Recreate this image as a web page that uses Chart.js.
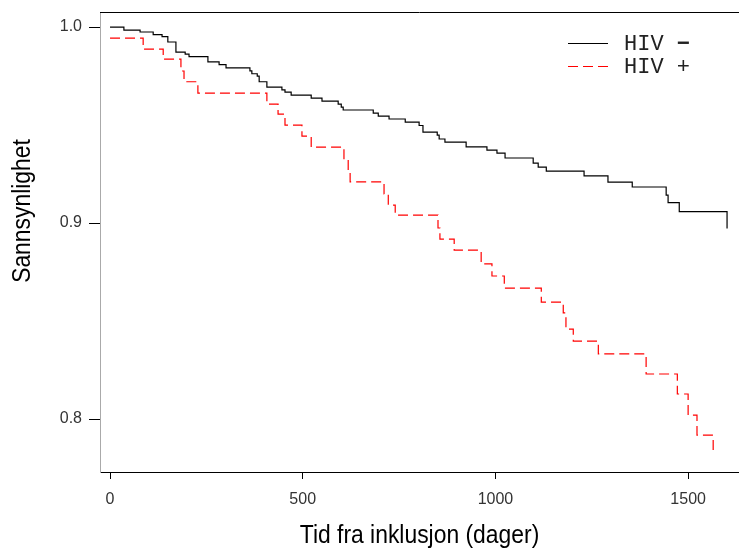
<!DOCTYPE html>
<html>
<head>
<meta charset="utf-8">
<script src="https://cdn.jsdelivr.net/npm/chart.js@4.4.1/dist/chart.umd.min.js"></script>
<style>
html, body { margin: 0; padding: 0; background: #fff; }
#wrap { width: 739px; height: 549px; }
</style>
</head>
<body>
<div id="wrap"><canvas id="kmChart" width="739" height="549"></canvas></div>
<script>
// Kaplan-Meier steps (day of event, survival after it)
const hivNegDays = [0, 36, 78, 112, 135, 150, 171, 195, 205, 254, 283, 301, 363, 368, 382, 387, 407, 446, 454, 470,
  522, 550, 592, 600, 605, 683, 696, 724, 766, 802, 812, 849, 854, 869, 924, 978, 1004, 1025, 1098, 1111, 1132,
  1230, 1292, 1355, 1443, 1448, 1477, 1601];
const hivNegSurv = [1.000, 0.9985, 0.9975, 0.9962, 0.9951, 0.9924, 0.9872, 0.9862, 0.9849, 0.9823, 0.9808, 0.9792,
  0.9777, 0.9762, 0.9750, 0.9721, 0.9694, 0.9680, 0.9668, 0.9653, 0.9638, 0.9622, 0.9607, 0.9592, 0.9577, 0.9561,
  0.9546, 0.9531, 0.9515, 0.9498, 0.9464, 0.9449, 0.9429, 0.9413, 0.9389, 0.9372, 0.9357, 0.9332, 0.9306, 0.9286,
  0.9265, 0.9241, 0.9209, 0.9184, 0.9143, 0.9104, 0.9058, 0.8972];

const hivPosDays = [0, 86, 138, 184, 192, 228, 407, 436, 454, 498, 522, 607, 618, 623, 711, 722, 740, 851, 856, 893,
  963, 991, 1023, 1119, 1176, 1183, 1202, 1267, 1391, 1472, 1500, 1523, 1565];
const hivPosSurv = [0.9944, 0.9888, 0.9837, 0.9776, 0.9721, 0.9663, 0.9607, 0.9556, 0.9500, 0.9444, 0.9388, 0.9326,
  0.9270, 0.9210, 0.9149, 0.9092, 0.9041, 0.8975, 0.8918, 0.8862, 0.8792, 0.8730, 0.8668, 0.8597, 0.8542, 0.8459,
  0.8398, 0.8333, 0.8230, 0.8128, 0.8020, 0.7918, 0.7830];

const xTicks = [0, 500, 1000, 1500];
const yTicks = [0.8, 0.9, 1.0];
const seriesNames = ["HIV", "HIV"];
const seriesSigns = ["\u2212", "+"];
const seriesColors = ["#000000", "#ff0000"];
const xTitle = "Tid fra inklusjon (dager)";
const yTitle = "Sannsynlighet";

const toPoints = (days, surv) => days.map((d, i) => ({ x: d, y: surv[i] }));

// narrow-looking axis title (the original font is a condensed helvetica)
function drawTitle(ctx, text, x, y, rot) {
  ctx.save();
  ctx.translate(x, y);
  ctx.rotate(rot);
  ctx.scale(0.88, 1);
  ctx.fillStyle = "#000";
  ctx.font = "26px 'Liberation Sans', Arial, sans-serif";
  ctx.textAlign = "center";
  ctx.textBaseline = "middle";
  ctx.fillText(text, 0, 0);
  ctx.restore();
}

// top frame line, axis titles and the in-plot legend
const framePlugin = {
  id: "frame",
  afterDraw(chart) {
    const { ctx, chartArea: a } = chart;
    ctx.save();
    ctx.strokeStyle = "#000";
    ctx.lineWidth = 1;
    ctx.beginPath();
    ctx.moveTo(a.left, a.top + 0.5);
    ctx.lineTo(a.right, a.top + 0.5);
    ctx.stroke();

    drawTitle(ctx, xTitle, (a.left + a.right) / 2, 536, 0);
    drawTitle(ctx, yTitle, 23, 211, -Math.PI / 2);

    const lx = a.right - 171, ly = a.top + 31;
    ctx.textBaseline = "middle";
    ctx.textAlign = "left";
    seriesNames.forEach((name, i) => {
      const y = ly + i * 23 + 0.5;
      ctx.strokeStyle = seriesColors[i];
      ctx.setLineDash(i === 0 ? [] : [10, 5]);
      ctx.beginPath();
      ctx.moveTo(lx, y);
      ctx.lineTo(lx + 40, y);
      ctx.stroke();
      ctx.fillStyle = "#222";
      ctx.font = "22px 'Liberation Mono', monospace";
      ctx.fillText(name + " ", lx + 56, y + 1);
      const w = ctx.measureText(name + " ").width;
      ctx.font = (i === 0 ? "bold " : "") + "22px 'Liberation Mono', monospace";
      ctx.fillText(seriesSigns[i], lx + 56 + w, y + 1);
    });
    ctx.restore();
  }
};

new Chart(document.getElementById("kmChart"), {
  type: "line",
  data: {
    datasets: [
      { label: seriesNames[0] + " " + seriesSigns[0], data: toPoints(hivNegDays, hivNegSurv), borderColor: seriesColors[0],
        borderWidth: 1.2, stepped: "before", pointRadius: 0, fill: false },
      { label: seriesNames[1] + " " + seriesSigns[1], data: toPoints(hivPosDays, hivPosSurv), borderColor: seriesColors[1],
        borderWidth: 1.2, borderDash: [10, 5], stepped: "before", pointRadius: 0, fill: false }
    ]
  },
  options: {
    responsive: false,
    devicePixelRatio: 1,
    animation: false,
    layout: { padding: { top: 12, right: 0, left: 0, bottom: 0 } },
    plugins: { legend: { display: false }, tooltip: { enabled: false } },
    scales: {
      x: {
        type: "linear", min: -26, max: 1632,
        afterBuildTicks: s => { s.ticks = xTicks.map(v => ({ value: v })); },
        afterFit: s => { s.height = 77; s.paddingLeft = 0; s.paddingRight = 0; },
        grid: { drawOnChartArea: false, color: "#000", tickLength: 7 },
        border: { color: "#000", width: 1 },
        ticks: { padding: 11, color: "#333", maxRotation: 0, font: { family: "'Liberation Sans', sans-serif", size: 16 },
          callback: v => String(v) }
      },
      y: {
        type: "linear", min: 0.773, max: 1.0077,
        afterBuildTicks: s => { s.ticks = yTicks.map(v => ({ value: v })); },
        afterFit: s => { s.width = 100; s.paddingTop = 0; s.paddingBottom = 0; },
        grid: { drawOnChartArea: false, color: "#000", tickLength: 11 },
        border: { color: "#aaa", width: 1 },
        ticks: { padding: 7, color: "#333", font: { family: "'Liberation Sans', sans-serif", size: 16 },
          callback: v => v.toFixed(1) }
      }
    }
  },
  plugins: [framePlugin]
});
</script>
</body>
</html>
